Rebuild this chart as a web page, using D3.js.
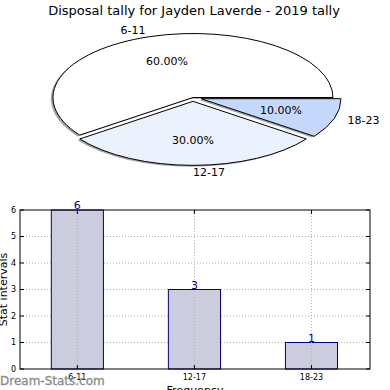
<!DOCTYPE html>
<html><head><meta charset="utf-8">
<script src="https://cdn.jsdelivr.net/npm/d3@7"></script>
<style>body{margin:0;background:#fff}svg{display:block;font-family:"DejaVu Sans",sans-serif}</style>
</head><body>
<svg id="c" width="390" height="390"></svg>
<script>
const title = "Disposal tally for Jayden Laverde - 2019 tally";
const categories = ["6-11", "12-17", "18-23"];
const values = [6, 3, 1];
const pieColors = ["#ffffff", "#ebf1fd", "#c6d9fd"];
const explode = [0, 0.06, 0.06];
const yTicks = [0, 1, 2, 3, 4, 5, 6];

const svg = d3.select("#c");
svg.append("text").attr("x", 194).attr("y", 15).attr("text-anchor", "middle")
  .attr("font-size", 13).text(title);

// ---- Pie ----
const cx = 193, cy = 97.5, rx = 140, ry = 64;
const total = d3.sum(values);
const pie = d3.pie().sort(null).startAngle(Math.PI / 2).endAngle(Math.PI / 2 - 2 * Math.PI);
const arcs = pie(values);
const arc = d3.arc().innerRadius(0).outerRadius(1);
function geom(d, i) {
  const mid = (d.startAngle + d.endAngle) / 2; // d3 angle
  const ux = Math.sin(mid), uy = -Math.cos(mid);
  return { ux, uy, ox: cx + explode[i] * ux * rx, oy: cy + explode[i] * uy * ry };
}
const pg = svg.append("g");
// shadows
arcs.forEach((d, i) => {
  const g = geom(d, i);
  pg.append("path").attr("d", arc(d))
    .attr("transform", `translate(${g.ox - 2.2},${g.oy + 1.3}) scale(${rx},${ry})`)
    .attr("fill", "#4d4d4d").attr("fill-opacity", 0.5);
});
arcs.forEach((d, i) => {
  const g = geom(d, i);
  pg.append("path").attr("d", arc(d))
    .attr("transform", `translate(${g.ox},${g.oy}) scale(${rx},${ry})`)
    .attr("fill", pieColors[i]).attr("stroke", "#000").attr("stroke-width", 1)
    .attr("vector-effect", "non-scaling-stroke");
});
arcs.forEach((d, i) => {
  const g = geom(d, i);
  const lx = g.ox + 1.1 * g.ux * rx, ly = g.oy + 1.1 * g.uy * ry;
  pg.append("text").attr("x", lx).attr("y", ly).attr("dy", "0.35em")
    .attr("text-anchor", g.ux > -1e-9 ? "start" : "end").attr("font-size", 11)
    .text(categories[i]);
  const px = g.ox + 0.6 * g.ux * rx, py = g.oy + 0.6 * g.uy * ry;
  pg.append("text").attr("x", px).attr("y", py).attr("dy", "0.35em")
    .attr("text-anchor", "middle").attr("font-size", 11)
    .text((values[i] / total * 100).toFixed(2) + "%");
});

// ---- Bars ----
const L = 20, R = 370, T = 210, B = 369;
const x = d3.scaleLinear().domain([-0.49, 2.5]).range([L, R]);
const y = d3.scaleLinear().domain([0, 6]).range([B, T]);
const bw = 0.445;
const bg = svg.append("g");
// horizontal grid
bg.selectAll(".hg").data(yTicks.slice(1, -1)).enter().append("line")
  .attr("x1", L).attr("x2", R).attr("y1", d => y(d)).attr("y2", d => y(d))
  .attr("stroke", "#b0b0b0").attr("stroke-dasharray", "1,2");
bg.selectAll(".bar").data(values).enter().append("rect")
  .attr("x", (d, i) => x(i - bw / 2)).attr("width", (d, i) => x(i + bw / 2) - x(i - bw / 2))
  .attr("y", d => y(d)).attr("height", d => y(0) - y(d))
  .attr("fill", "#ccccdf").attr("stroke", "#000080").attr("stroke-width", 1);
// vertical grid
bg.selectAll(".vg").data(categories).enter().append("line")
  .attr("x1", (d, i) => x(i)).attr("x2", (d, i) => x(i)).attr("y1", T).attr("y2", B)
  .attr("stroke", "#b0b0b0").attr("stroke-dasharray", "1,2");
bg.selectAll(".vl").data(values).enter().append("text")
  .attr("x", (d, i) => x(i)).attr("y", d => y(d) - 1).attr("text-anchor", "middle")
  .attr("font-size", 11).attr("fill", "#00008b").text(d => d);
// frame
bg.append("rect").attr("x", L).attr("y", T).attr("width", R - L).attr("height", B - T)
  .attr("fill", "none").attr("stroke", "#000").attr("stroke-width", 1);
// ticks
yTicks.forEach(t => {
  bg.append("line").attr("x1", L).attr("x2", L + 4).attr("y1", y(t)).attr("y2", y(t)).attr("stroke", "#000");
  bg.append("line").attr("x1", R).attr("x2", R - 4).attr("y1", y(t)).attr("y2", y(t)).attr("stroke", "#000");
  bg.append("text").attr("x", L - 4).attr("y", y(t)).attr("dy", "0.35em").attr("text-anchor", "end")
    .attr("font-size", 8).text(t);
});
categories.forEach((c, i) => {
  bg.append("line").attr("x1", x(i)).attr("x2", x(i)).attr("y1", B).attr("y2", B - 4).attr("stroke", "#000");
  bg.append("line").attr("x1", x(i)).attr("x2", x(i)).attr("y1", T).attr("y2", T + 4).attr("stroke", "#000");
  bg.append("text").attr("x", x(i)).attr("y", B + 11).attr("text-anchor", "middle")
    .attr("font-size", 8).text(c);
});
svg.append("text").attr("x", (L + R) / 2).attr("y", 394).attr("text-anchor", "middle")
  .attr("font-size", 11).text("Frequency");
svg.append("text").attr("transform", `translate(7,${(T + B) / 2}) rotate(-90)`)
  .attr("text-anchor", "middle").attr("font-size", 11).text("Stat intervals");
svg.append("text").attr("x", 0).attr("y", 385).attr("font-size", 12)
  .attr("stroke", "#8a8a8a").attr("stroke-width", 0.3)
  .attr("fill", "#8a8a8a").text("Dream-Stats.com");
</script>
</body></html>
